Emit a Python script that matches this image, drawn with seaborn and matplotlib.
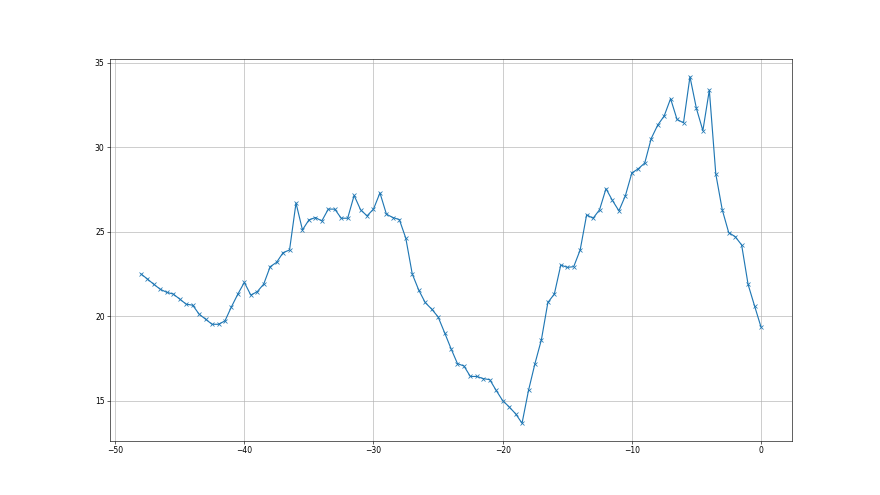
import matplotlib
matplotlib.use("Agg")
import pandas as pd
import matplotlib.pyplot as plt
import seaborn as sns

days = [-48.0, -47.5, -47.0, -46.5, -46.0, -45.5, -45.0, -44.5, -44.0, -43.5,
        -43.0, -42.5, -42.0, -41.5, -41.0, -40.5, -40.0, -39.5, -39.0, -38.5,
        -38.0, -37.5, -37.0, -36.5, -36.0, -35.5, -35.0, -34.5, -34.0, -33.5,
        -33.0, -32.5, -32.0, -31.5, -31.0, -30.5, -30.0, -29.5, -29.0, -28.5,
        -28.0, -27.5, -27.0, -26.5, -26.0, -25.5, -25.0, -24.5, -24.0, -23.5,
        -23.0, -22.5, -22.0, -21.5, -21.0, -20.5, -20.0, -19.5, -19.0, -18.5,
        -18.0, -17.5, -17.0, -16.5, -16.0, -15.5, -15.0, -14.5, -14.0, -13.5,
        -13.0, -12.5, -12.0, -11.5, -11.0, -10.5, -10.0, -9.5, -9.0, -8.5,
        -8.0, -7.5, -7.0, -6.5, -6.0, -5.5, -5.0, -4.5, -4.0, -3.5,
        -3.0, -2.5, -2.0, -1.5, -1.0, -0.5, 0.0]

values = [22.5, 22.2, 21.88, 21.59, 21.41, 21.31, 21.01, 20.71, 20.65, 20.12,
          19.82, 19.52, 19.52, 19.72, 20.55, 21.31, 22.0, 21.25, 21.45, 21.9,
          22.93, 23.19, 23.76, 23.92, 26.7, 25.11, 25.7, 25.84, 25.64, 26.34,
          26.34, 25.8, 25.8, 27.15, 26.3, 25.94, 26.34, 27.3, 26.04, 25.84,
          25.72, 24.62, 22.5, 21.55, 20.81, 20.42, 19.96, 19.03, 18.08, 17.19,
          17.05, 16.43, 16.43, 16.3, 16.24, 15.6, 15.0, 14.63, 14.22, 13.66,
          15.6, 17.19, 18.61, 20.81, 21.31, 23.03, 22.89, 22.93, 23.92, 26.0,
          25.8, 26.3, 27.55, 26.85, 26.24, 27.13, 28.48, 28.73, 29.07, 30.52,
          31.31, 31.85, 32.88, 31.65, 31.45, 34.18, 32.3, 30.99, 33.39, 28.42,
          26.3, 24.95, 24.71, 24.22, 21.88, 20.61, 19.36]

df = pd.DataFrame({'day': days, 'value': values})

fig, ax = plt.subplots(figsize=(16, 9), dpi=55)
sns.lineplot(data=df, x='day', y='value', marker='x', color='tab:blue',
             markeredgecolor='tab:blue', markeredgewidth=1.0,
             sort=False, errorbar=None, ax=ax)

ax.grid(True)
ax.set_xlabel('')
ax.set_ylabel('')

plt.savefig('out.png', dpi=55)
